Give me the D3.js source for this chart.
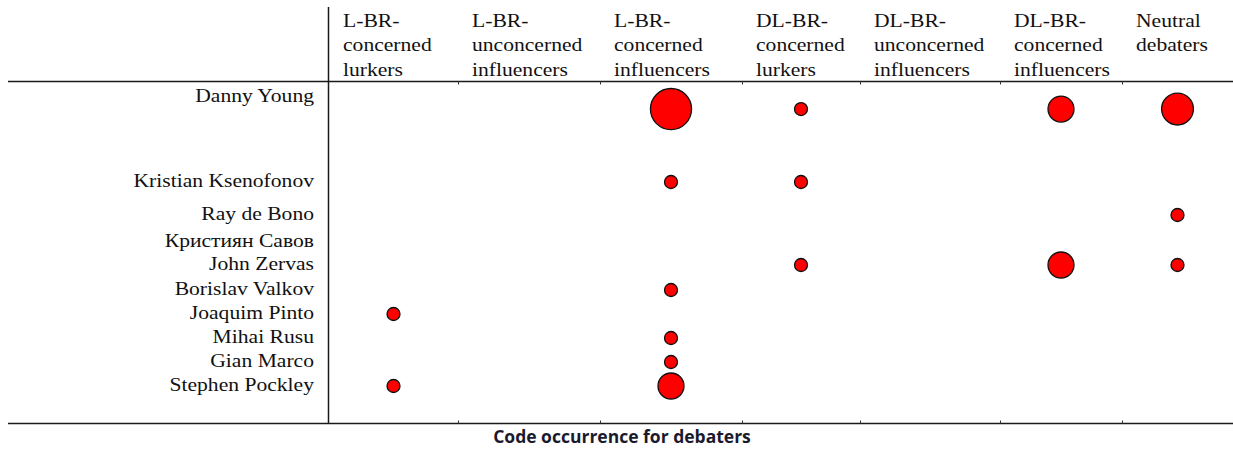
<!DOCTYPE html>
<html>
<head>
<meta charset="utf-8">
<script src="https://cdn.jsdelivr.net/npm/d3@7"></script>
<style>
  html, body { margin: 0; padding: 0; background: #fff; }
  svg { display: block; }
</style>
</head>
<body>
<div id="chart"></div>
<script>
// debaters (rows)
const debaters = [
  "Danny Young", "Kristian Ksenofonov", "Ray de Bono", "Кристиян Савов",
  "John Zervas", "Borislav Valkov", "Joaquim Pinto", "Mihai Rusu",
  "Gian Marco", "Stephen Pockley"
];

// codes (columns), header lines
const codes = [
  "L-BR-\nconcerned\nlurkers",
  "L-BR-\nunconcerned\ninfluencers",
  "L-BR-\nconcerned\ninfluencers",
  "DL-BR-\nconcerned\nlurkers",
  "DL-BR-\nunconcerned\ninfluencers",
  "DL-BR-\nconcerned\ninfluencers",
  "Neutral\ndebaters"
];

// code occurrences per debater, one array per code
const lbrConcernedLurkers        = [0, 0, 0, 0, 0, 0, 1, 0, 0, 1];
const lbrUnconcernedInfluencers  = [0, 0, 0, 0, 0, 0, 0, 0, 0, 0];
const lbrConcernedInfluencers    = [10, 1, 0, 0, 0, 1, 0, 1, 1, 4];
const dlbrConcernedLurkers       = [1, 1, 0, 0, 1, 0, 0, 0, 0, 0];
const dlbrUnconcernedInfluencers = [0, 0, 0, 0, 0, 0, 0, 0, 0, 0];
const dlbrConcernedInfluencers   = [4, 0, 0, 0, 4, 0, 0, 0, 0, 0];
const neutralDebaters            = [6, 0, 1, 0, 1, 0, 0, 0, 0, 0];

const title = "Code occurrence for debaters";

const series = [
  lbrConcernedLurkers, lbrUnconcernedInfluencers, lbrConcernedInfluencers,
  dlbrConcernedLurkers, dlbrUnconcernedInfluencers, dlbrConcernedInfluencers,
  neutralDebaters
];

// ---- layout ----
const width = 1233, height = 450;
const headerLineY = 81.5, bottomLineY = 423.5, axisX = 328.5;
const colEdges = [329, 458, 600, 742, 860, 1000, 1122, 1233];
const rowGaps = [0, 85, 33, 27, 23, 25, 24, 24, 24, 24];   // baseline to baseline
const firstBaseline = 102;
const stretch = 1.2;   // the source text is a bit wide

const serif = "'Liberation Serif', 'Times New Roman', serif";

const cells = [];
codes.forEach((c, j) => series[j].forEach((v, i) => {
  if (v > 0) cells.push({ code: c, name: debaters[i], value: v });
}));

const colStart = d3.scaleOrdinal(codes, colEdges.slice(0, -1));
const colEnd = d3.scaleOrdinal(codes, colEdges.slice(1));
const x = c => (colStart(c) + colEnd(c)) / 2;

const baselines = d3.cumsum(rowGaps).map(d => d + firstBaseline);
const yBase = d3.scaleOrdinal(debaters, baselines);

const r = d3.scaleSqrt().domain([0, 1]).range([0, 6.5]);

// dots sit on the label line, pushed down when a big one would hit the header
const rowMax = d3.rollup(cells, v => d3.max(v, d => r(d.value)), d => d.name);
const y = name => Math.max(yBase(name) - 5, headerLineY + rowMax.get(name) + 7);

const svg = d3.select("#chart").append("svg")
  .attr("width", width)
  .attr("height", height);

// frame lines
svg.append("line")
  .attr("x1", axisX).attr("x2", axisX)
  .attr("y1", 7).attr("y2", bottomLineY)
  .attr("stroke", "#1a1a1a").attr("stroke-width", 1.5);

[headerLineY, bottomLineY].forEach(ly => {
  svg.append("line")
    .attr("x1", 8).attr("x2", width)
    .attr("y1", ly).attr("y2", ly)
    .attr("stroke", "#1a1a1a").attr("stroke-width", 1.5);
});

// small ticks at column borders
const inner = colEdges.slice(1, -1);
svg.selectAll(".tick-top").data(inner).join("line")
  .attr("x1", d => d + 0.5).attr("x2", d => d + 0.5)
  .attr("y1", headerLineY).attr("y2", headerLineY + 3)
  .attr("stroke", "#333").attr("stroke-width", 1);
svg.selectAll(".tick-bottom").data(inner).join("line")
  .attr("x1", d => d + 0.5).attr("x2", d => d + 0.5)
  .attr("y1", bottomLineY - 3).attr("y2", bottomLineY)
  .attr("stroke", "#333").attr("stroke-width", 1);

// column headers
const head = svg.selectAll(".head").data(codes).join("text")
  .attr("class", "head")
  .attr("transform", d => `translate(${colStart(d) + 14},27) scale(${stretch},1)`)
  .attr("font-family", serif)
  .attr("font-size", 18)
  .attr("fill", "#111");
head.selectAll("tspan").data(d => d.split("\n")).join("tspan")
  .attr("x", 0)
  .attr("y", (d, i) => i * 24.5)
  .text(d => d);

// row labels
svg.selectAll(".name").data(debaters).join("text")
  .attr("class", "name")
  .attr("transform", d => `translate(314,${yBase(d)}) scale(${stretch},1)`)
  .attr("text-anchor", "end")
  .attr("font-family", serif)
  .attr("font-size", 18)
  .attr("fill", "#111")
  .text(d => d);

// bubbles
svg.selectAll(".dot").data(cells).join("circle")
  .attr("class", "dot")
  .attr("cx", d => x(d.code))
  .attr("cy", d => y(d.name))
  .attr("r", d => r(d.value))
  .attr("fill", "#ff0000")
  .attr("stroke", "#111")
  .attr("stroke-width", 1.3);

// title
svg.append("text")
  .attr("x", 622)
  .attr("y", 443)
  .attr("text-anchor", "middle")
  .attr("font-family", "'Open Sans', 'Noto Sans', sans-serif")
  .attr("font-weight", "bold")
  .attr("font-size", 17.5)
  .attr("fill", "#1a1a2e")
  .text(title);
</script>
</body>
</html>
